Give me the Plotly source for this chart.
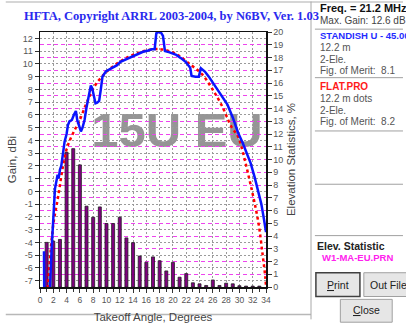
import plotly.graph_objects as go

# ---------------- data ----------------
bar_angles = list(range(1, 34))
elev_stats = [3.5, 3.6, 3.73, 10.57, 10.85, 9.58, 6.34, 5.47, 6.28, 4.98, 4.98, 5.47, 3.85, 3.48,
              2.43, 1.94, 2.36, 2.06, 1.26, 1.93, 0.77, 1.05, 0.33, 0.25, 0.12, 0.55, 0.12, 0.3,
              0.25, 0.1, 0.07, 0.07, 0.07]

blue_angle = [0.6, 0.65, 1.45, 1.5, 1.75, 2.0, 2.25, 2.5, 2.65, 2.8, 3.0, 3.2, 3.45, 3.7, 4.0, 4.2,
              4.45, 4.8, 5.1, 5.4, 5.6, 5.9, 6.15, 6.4, 6.7, 7.0, 7.4, 7.65, 7.85, 8.1, 8.35, 8.6,
              8.9, 9.15, 9.4, 9.9, 10.5, 11.1, 11.6, 12.1, 12.7, 13.3, 14.0, 14.8, 15.5, 16.3,
              16.8, 17.25, 17.4, 17.5, 17.8, 18.2, 18.5, 18.65, 18.8, 19.5, 20.5, 21.2, 21.9,
              22.6, 22.8, 23.4, 23.9, 24.2, 24.8, 25.4, 26.4, 27.4, 28.2, 29.0, 29.8, 30.5, 31.1,
              31.7, 32.3, 32.8, 33.3, 33.7, 34.0]
blue_gain = [-4.7, -9.0, -9.0, -7.5, -4.5, -2.0, 0.2, 0.9, 1.3, 1.0, 1.7, 2.0, 3.0, 3.9, 4.5, 5.2,
             5.5, 5.6, 6.0, 6.3, 5.6, 5.1, 4.7, 5.0, 5.6, 6.6, 7.7, 8.3, 8.1, 7.4, 6.9, 6.95,
             7.1, 8.0, 9.0, 9.4, 9.6, 9.8, 9.9, 10.16, 10.3, 10.45, 10.65, 10.8, 10.95, 11.05,
             11.15, 11.15, 12.0, 12.4, 12.5, 12.45, 12.2, 11.4, 11.0, 10.9, 10.7, 10.45, 10.16,
             9.7, 9.05, 9.0, 9.0, 9.66, 9.4, 9.0, 8.25, 7.5, 6.8, 5.8, 4.6, 3.8, 3.0,
             2.2, 1.1, 0.0, -1.0, -2.2, -3.2]

red_angle = [1.2, 1.5, 2.0, 2.7, 3.45, 3.94, 4.44, 5.2, 5.9, 6.9, 7.4, 8.4, 9.86, 11.3, 13.3,
             15.3, 17.3, 18.5, 20.46, 22.4, 24.4, 25.9, 27.4, 28.8, 29.8, 30.3, 31.3, 32.8,
             33.5, 33.9, 34.0]
red_gain = [-7.6, -5.3, -2.6, -0.5, 1.96, 3.2, 3.94, 4.8, 5.5, 6.8, 7.4, 8.4, 9.3, 9.92, 10.54,
            10.95, 11.16, 11.12, 10.78, 10.04, 9.17, 8.05, 6.68, 5.06, 4.3, 3.5, 1.4, -2.28,
            -5.0, -6.75, -7.5]

x_ticks = list(range(0, 35, 2))
gain_ticks = list(range(-7, 13))
elev_ticks = list(range(0, 21))

# ---------------- layout helpers ----------------
W, H = 406, 334
L, R, T, B = 35, 266, 32, 300


def px(x):
    return (x - L) / (R - L)


def py(y):
    return (B - y) / (B - T)


FONT = "Arial, Liberation Sans, sans-serif"

fig = go.Figure()

fig.add_trace(go.Bar(x=bar_angles, y=elev_stats, width=0.45, yaxis="y",
                     marker=dict(color="#800080", line=dict(color="#202020", width=0.8)),
                     showlegend=False, hoverinfo="skip"))
fig.add_trace(go.Scatter(x=red_angle, y=red_gain, yaxis="y2", mode="lines",
                         line=dict(color="#ff0000", width=2.5, dash="dot", shape="spline"),
                         showlegend=False, hoverinfo="skip"))
fig.add_trace(go.Scatter(x=blue_angle, y=blue_gain, yaxis="y2", mode="lines",
                         line=dict(color="#0a14ff", width=2.5),
                         showlegend=False, hoverinfo="skip"))

shapes = []
annots = []

# watermark below grid
shapes.append(dict(type="rect", xref="paper", yref="paper", x0=px(85), x1=px(265), y0=py(160),
                   y1=py(100), line=dict(width=0), fillcolor="rgba(0,0,0,0)", layer="below",
                   label=dict(text="<b>15U EU</b>", font=dict(size=49, color="#959595", family=FONT),
                              textposition="middle center")))

# window frame lines
shapes.append(dict(type="line", xref="paper", yref="paper", x0=px(0), x1=px(406), y0=py(0.5), y1=py(0.5),
                   line=dict(color="#c8c8c8", width=1.5)))
shapes.append(dict(type="line", xref="paper", yref="paper", x0=px(0), x1=px(312), y0=py(329), y1=py(329),
                   line=dict(color="#b8b8b8", width=1.5)))
shapes.append(dict(type="line", xref="paper", yref="paper", x0=px(312), x1=px(312), y0=py(0), y1=py(334),
                   line=dict(color="#a8a8a8", width=1)))
for yy in [29, 80, 136, 192, 246]:
    shapes.append(dict(type="line", xref="paper", yref="paper", x0=px(316), x1=px(406), y0=py(yy), y1=py(yy),
                       line=dict(color="#a0a0a0", width=1)))

# buttons
for (x0, x1, y0, y1, lc, lw) in [(317, 362, 285, 310, "#404040", 1.5), (366, 412, 285, 310, "#a0a0a0", 1),
                                  (342, 395, 313, 337, "#a0a0a0", 1)]:
    shapes.append(dict(type="rect", xref="paper", yref="paper", x0=px(x0), x1=px(x1), y0=py(y1), y1=py(y0),
                       line=dict(color=lc, width=lw), fillcolor="#e6e6e6"))


def txt(x, y, s, size=10.5, color="#333333", xanchor="left"):
    annots.append(dict(x=px(x), y=py(y), xref="paper", yref="paper", text=s, showarrow=False,
                       xanchor=xanchor, yanchor="middle", font=dict(size=size, color=color, family=FONT)))


txt(319, 7, "<b>Freq. = 21.2 MHz</b>", 11, "#111111")
txt(319, 20, "Max. Gain: 12.6 dB", 10, "#444444")
txt(319, 36, "<b>STANDISH U - 45.00</b>", 9.5, "#1f2cff")
txt(319, 48, "12.2 m", 10, "#555555")
txt(319, 61, "2-Ele.", 10, "#555555")
txt(319, 72, "Fig. of Merit:  8.1", 10, "#555555")
txt(319, 89, "<b>FLAT.PRO</b>", 10, "#ff1a1a")
txt(319, 102, "12.2 m dots", 10, "#555555")
txt(319, 114, "2-Ele.", 10, "#555555")
txt(319, 126, "Fig. of Merit:  8.2", 10, "#555555")
txt(316, 257, "<b>Elev. Statistic</b>", 10.5, "#222222")
txt(321, 269, "<b>W1-MA-EU.PRN</b>", 9.5, "#ff22ee")
txt(339.5, 297.5, "<u>P</u>rint", 10.5, "#222222", "center")
txt(370, 297.5, "Out File", 10.5, "#222222")
txt(368.5, 324.5, "<u>C</u>lose", 10.5, "#222222", "center")

# chart title
annots.append(dict(x=px(17), y=py(15), xref="paper", yref="paper", showarrow=False, xanchor="left",
                   yanchor="middle", text="<b>HFTA, Copyright ARRL 2003-2004, by N6BV, Ver. 1.03</b>",
                   font=dict(size=12.5, color="#2a2aee", family="Liberation Serif, Times New Roman, serif")))

fig.update_layout(
    width=W, height=H,
    margin=dict(l=L, r=W - R, t=T, b=H - B, pad=0),
    paper_bgcolor="white", plot_bgcolor="white",
    bargap=0, showlegend=False,
    xaxis=dict(range=[0, 34], tickvals=x_ticks, ticktext=[str(v) for v in x_ticks],
               showgrid=True, gridcolor="#9a9a9a", griddash="2px,2px", gridwidth=1,
               showline=True, linecolor="#111111", linewidth=1.5, mirror=True,
               ticks="outside", ticklen=4, tickcolor="#333333",
               minor=dict(tickvals=list(range(1, 34, 2)), ticks="outside", ticklen=3, tickcolor="#333333",
                          showgrid=False),
               tickfont=dict(size=8.5, color="#555555", family=FONT),
               title=dict(text="Takeoff Angle, Degrees", font=dict(size=11.5, color="#444444", family=FONT),
                          standoff=9),
               zeroline=False, fixedrange=True),
    yaxis=dict(range=[0, 20], side="right", tickvals=elev_ticks, ticktext=[str(v) for v in elev_ticks],
               showgrid=True, gridcolor="#ee44ee", griddash="4px,3px", gridwidth=1,
               showline=True, linecolor="#111111", linewidth=1.5,
               ticks="outside", ticklen=4, tickcolor="#333333",
               tickfont=dict(size=9, color="#555555", family=FONT),
               title=dict(text="Elevation Statistics, %", font=dict(size=11.5, color="#444444", family=FONT),
                          standoff=4),
               zeroline=False, fixedrange=True),
    yaxis2=dict(range=[-7.5, 12.5], side="left", overlaying="y", tickvals=gain_ticks,
                ticktext=[str(v) for v in gain_ticks],
                showgrid=True, gridcolor="#9a9a9a", griddash="2px,2px", gridwidth=1,
                showline=True, linecolor="#111111", linewidth=1.5,
                ticks="outside", ticklen=4, tickcolor="#333333",
                tickfont=dict(size=9, color="#555555", family=FONT),
                title=dict(text="Gain, dBi", font=dict(size=11.5, color="#444444", family=FONT),
                           standoff=3),
                zeroline=False, fixedrange=True),
    shapes=shapes, annotations=annots,
)

fig.write_html("out.html", config={"displayModeBar": False, "staticPlot": True})
